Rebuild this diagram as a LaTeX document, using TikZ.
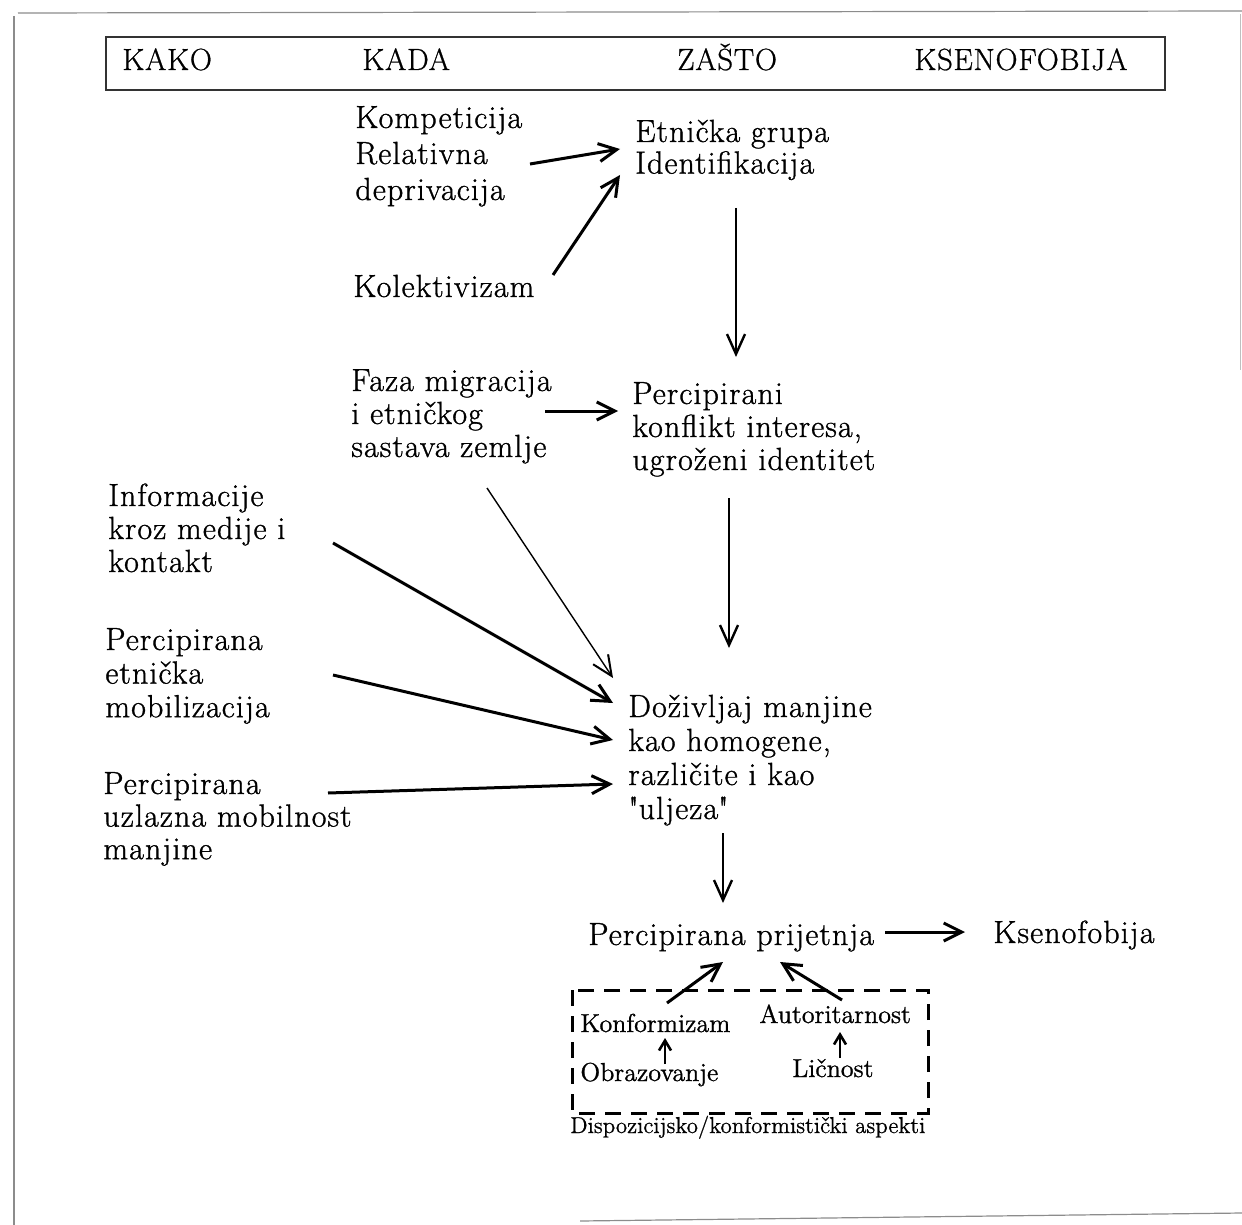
\documentclass[tikz,border=0pt]{standalone}
\usepackage{fontspec}
\setmainfont{Latin Modern Roman}
\usetikzlibrary{arrows.meta,calc}
\newcommand{\bodyfont}[1]{\fontsize{16}{#1}\selectfont\addfontfeatures{LetterSpace=3.5,FakeBold=1}}
\begin{document}
\begin{tikzpicture}[x=0.5pt,y=-0.5pt,
  txt/.style={anchor=base west,inner sep=0pt,align=left,font=\bodyfont{17}},
  head/.style={anchor=base west,inner sep=0pt,font=\fontsize{15.3}{17}\selectfont\addfontfeatures{LetterSpace=2.5,FakeBold=0.8}},
  small/.style={anchor=base west,inner sep=0pt,font=\fontsize{13}{15}\selectfont\addfontfeatures{FakeBold=1}},
  tiny/.style={anchor=base west,inner sep=0pt,font=\fontsize{11.5}{13}\selectfont\addfontfeatures{FakeBold=0.8}},
  frame/.style={draw=black!45,line width=0.6pt},
  arr/.style={line width=1.5pt,-{Straight Barb[length=9pt,width=9pt,line width=1.5pt]}},
  varr/.style={line width=1pt,-{Straight Barb[length=10pt,width=9pt,line width=1.2pt]}},
  thinarr/.style={line width=0.7pt,-{Straight Barb[length=10pt,width=9pt,line width=1pt]}},
  sarr/.style={line width=1.3pt,-{Straight Barb[length=5pt,width=6pt,line width=1.3pt]}}
]
\useasboundingbox (0,0) rectangle (1242,1225);
% page frame (scan edges)
\draw[frame] (18,13) -- (1242,11);
\draw[frame] (14,16) -- (14,1225);
\draw[frame] (580,1221) -- (1242,1213);
\draw[draw=black!25,line width=0.5pt] (1240,14) -- (1240,370);
% header
\draw[draw=black!80,line width=1pt] (106,37) rectangle (1165,90);
\node[head] (hkako) at (122,70) {KAKO};
\node[head] (hkada) at (362,70) {KADA};
\node[head] (hzasto) at (677,70) {ZAŠTO};
\node[head] (hksen) at (914,70) {KSENOFOBIJA};
% nodes (base = baseline of last line)
\node[txt,font=\bodyfont{18}] (komp) at (355,200) {Kompeticija\\Relativna\\deprivacija};
\node[txt,font=\bodyfont{15.8}] (etn) at (635,173.6) {Etnička grupa\\Identifikacija};
\node[txt] (kol) at (353,297) {Kolektivizam};
\node[txt,font=\bodyfont{16.5}] (faza) at (351,457) {Faza migracija\\i etničkog\\sastava zemlje};
\node[txt,font=\bodyfont{16.5}] (perc) at (632,470) {Percipirani\\konflikt interesa,\\ugroženi identitet};
\node[txt,font=\bodyfont{16.5}] (info) at (108,572) {Informacije\\kroz medije i\\kontakt};
\node[txt,font=\bodyfont{16.8}] (mob) at (105,717.2) {Percipirana\\etnička\\mobilizacija};
\node[txt,font=\bodyfont{16.3}] (uzl) at (103,859.2) {Percipirana\\uzlazna mobilnost\\manjine};
\node[txt,font=\bodyfont{17}] (doz) at (628,819) {Doživljaj manjine\\kao homogene,\\različite i kao\\\textquotedbl uljeza\textquotedbl};
\node[txt] (prij) at (588,945) {Percipirana prijetnja};
\node[txt] (ksen) at (993,943) {Ksenofobija};
\node[small] (konf) at (580,1032) {Konformizam};
\node[small] (auto) at (759,1023) {Autoritarnost};
\node[small] (obr) at (580,1081) {Obrazovanje};
\node[small] (lic) at (792,1077) {Ličnost};
\node[tiny] (disp) at (570,1133) {Dispozicijsko/konformistički aspekti};
% dashed box
\draw[line width=1.5pt,dash pattern=on 8pt off 5pt] (572,990) rectangle (928,1113);
% connectors
\draw[arr] ($(komp.base west)+(175,-36)$) -- ($(etn.base west)+(-15,-24.6)$);
\draw[arr] ($(kol.base west)+(200,-22)$) -- ($(etn.base west)+(-15,1.4)$);
\draw[varr] ($(etn.base west)+(101,34.4)$) -- ($(perc.base west)+(104,-113)$);
\draw[arr] ($(faza.base west)+(194,-46)$) -- ($(perc.base west)+(-14,-59)$);
\draw[varr] ($(perc.base west)+(97,28)$) -- ($(doz.base west)+(101,-171)$);
\draw[thinarr] ($(faza.base west)+(136,31)$) -- ($(doz.base west)+(-15,-141)$);
\draw[arr] ($(info.base west)+(225,-29)$) -- ($(doz.base west)+(-15,-116)$);
\draw[arr] ($(mob.base west)+(228,-42.2)$) -- ($(doz.base west)+(-15,-79)$);
\draw[arr] ($(uzl.base west)+(225,-66.2)$) -- ($(doz.base west)+(-15,-35)$);
\draw[varr] ($(doz.base west)+(95,14)$) -- ($(prij.base west)+(135,-42)$);
\draw[arr] ($(prij.base west)+(297,-13)$) -- ($(ksen.base west)+(-28,-11)$);
\draw[arr] ($(konf.base west)+(87,-29)$) -- ($(prij.base west)+(135,17)$);
\draw[arr] ($(auto.base west)+(83,-23)$) -- ($(prij.base west)+(192,17)$);
\draw[sarr] ($(obr.base west)+(85,-17)$) -- ($(konf.base west)+(85,6)$);
\draw[sarr] ($(lic.base west)+(48,-19)$) -- ($(auto.base west)+(81,9)$);
\end{tikzpicture}
\end{document}
